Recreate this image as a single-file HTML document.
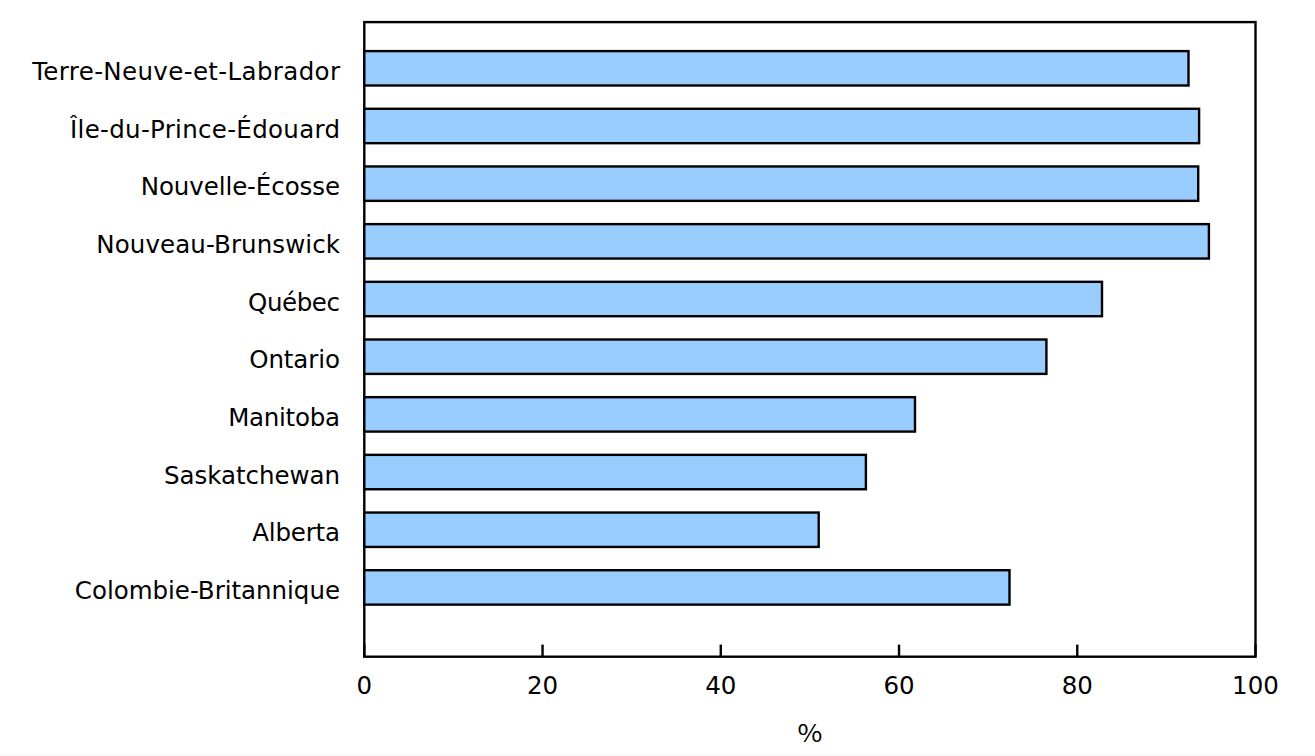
<!DOCTYPE html>
<html><head><meta charset="utf-8"><style>
html,body{margin:0;padding:0;background:#fff;width:1315px;height:756px;overflow:hidden}
svg{display:block}
text{font-family:"DejaVu Sans","Liberation Sans",sans-serif;font-size:24.5px;fill:#000}
</style></head><body>
<svg width="1315" height="756" viewBox="0 0 1315 756">
<rect x="0" y="754" width="1315" height="2" fill="#fafafa"/>
<rect x="364.3" y="22.1" width="891.20" height="634.60" fill="none" stroke="#000" stroke-width="2.4"/>
<rect x="364.3" y="51.10" width="824.20" height="34.40" fill="#99ccff" stroke="#000" stroke-width="2.4"/>
<text x="340" y="80" text-anchor="end" textLength="307.85">Terre-Neuve-et-Labrador</text>
<rect x="364.3" y="108.78" width="834.80" height="34.40" fill="#99ccff" stroke="#000" stroke-width="2.4"/>
<text x="340" y="138" text-anchor="end" textLength="269.97">Île-du-Prince-Édouard</text>
<rect x="364.3" y="166.46" width="833.90" height="34.40" fill="#99ccff" stroke="#000" stroke-width="2.4"/>
<text x="340" y="195" text-anchor="end" textLength="199.30">Nouvelle-Écosse</text>
<rect x="364.3" y="224.14" width="844.60" height="34.40" fill="#99ccff" stroke="#000" stroke-width="2.4"/>
<text x="340" y="253" text-anchor="end" textLength="243.64">Nouveau-Brunswick</text>
<rect x="364.3" y="281.82" width="737.70" height="34.40" fill="#99ccff" stroke="#000" stroke-width="2.4"/>
<text x="340" y="311" text-anchor="end" textLength="91.98">Québec</text>
<rect x="364.3" y="339.50" width="682.10" height="34.40" fill="#99ccff" stroke="#000" stroke-width="2.4"/>
<text x="340" y="368" text-anchor="end" textLength="90.81">Ontario</text>
<rect x="364.3" y="397.18" width="550.70" height="34.40" fill="#99ccff" stroke="#000" stroke-width="2.4"/>
<text x="340" y="426" text-anchor="end" textLength="111.86">Manitoba</text>
<rect x="364.3" y="454.86" width="501.60" height="34.40" fill="#99ccff" stroke="#000" stroke-width="2.4"/>
<text x="340" y="484" text-anchor="end" textLength="176.06">Saskatchewan</text>
<rect x="364.3" y="512.54" width="454.40" height="34.40" fill="#99ccff" stroke="#000" stroke-width="2.4"/>
<text x="340" y="541" text-anchor="end" textLength="87.79">Alberta</text>
<rect x="364.3" y="570.22" width="645.20" height="34.40" fill="#99ccff" stroke="#000" stroke-width="2.4"/>
<text x="340" y="599" text-anchor="end" textLength="265.18">Colombie-Britannique</text>
<line x1="364.30" y1="644.6" x2="364.30" y2="656.7" stroke="#000" stroke-width="2.4"/>
<text x="364.30" y="693.7" text-anchor="middle">0</text>
<line x1="542.54" y1="644.6" x2="542.54" y2="656.7" stroke="#000" stroke-width="2.4"/>
<text x="542.54" y="693.7" text-anchor="middle">20</text>
<line x1="720.78" y1="644.6" x2="720.78" y2="656.7" stroke="#000" stroke-width="2.4"/>
<text x="720.78" y="693.7" text-anchor="middle">40</text>
<line x1="899.02" y1="644.6" x2="899.02" y2="656.7" stroke="#000" stroke-width="2.4"/>
<text x="899.02" y="693.7" text-anchor="middle">60</text>
<line x1="1077.26" y1="644.6" x2="1077.26" y2="656.7" stroke="#000" stroke-width="2.4"/>
<text x="1077.26" y="693.7" text-anchor="middle">80</text>
<line x1="1255.50" y1="644.6" x2="1255.50" y2="656.7" stroke="#000" stroke-width="2.4"/>
<text x="1255.50" y="693.7" text-anchor="middle">100</text>
<text transform="translate(809.8,742) scale(1.1,1.0)" text-anchor="middle" style="font-family:&quot;Noto Sans CJK JP&quot;,&quot;DejaVu Sans&quot;,sans-serif">%</text>
</svg>
</body></html>
